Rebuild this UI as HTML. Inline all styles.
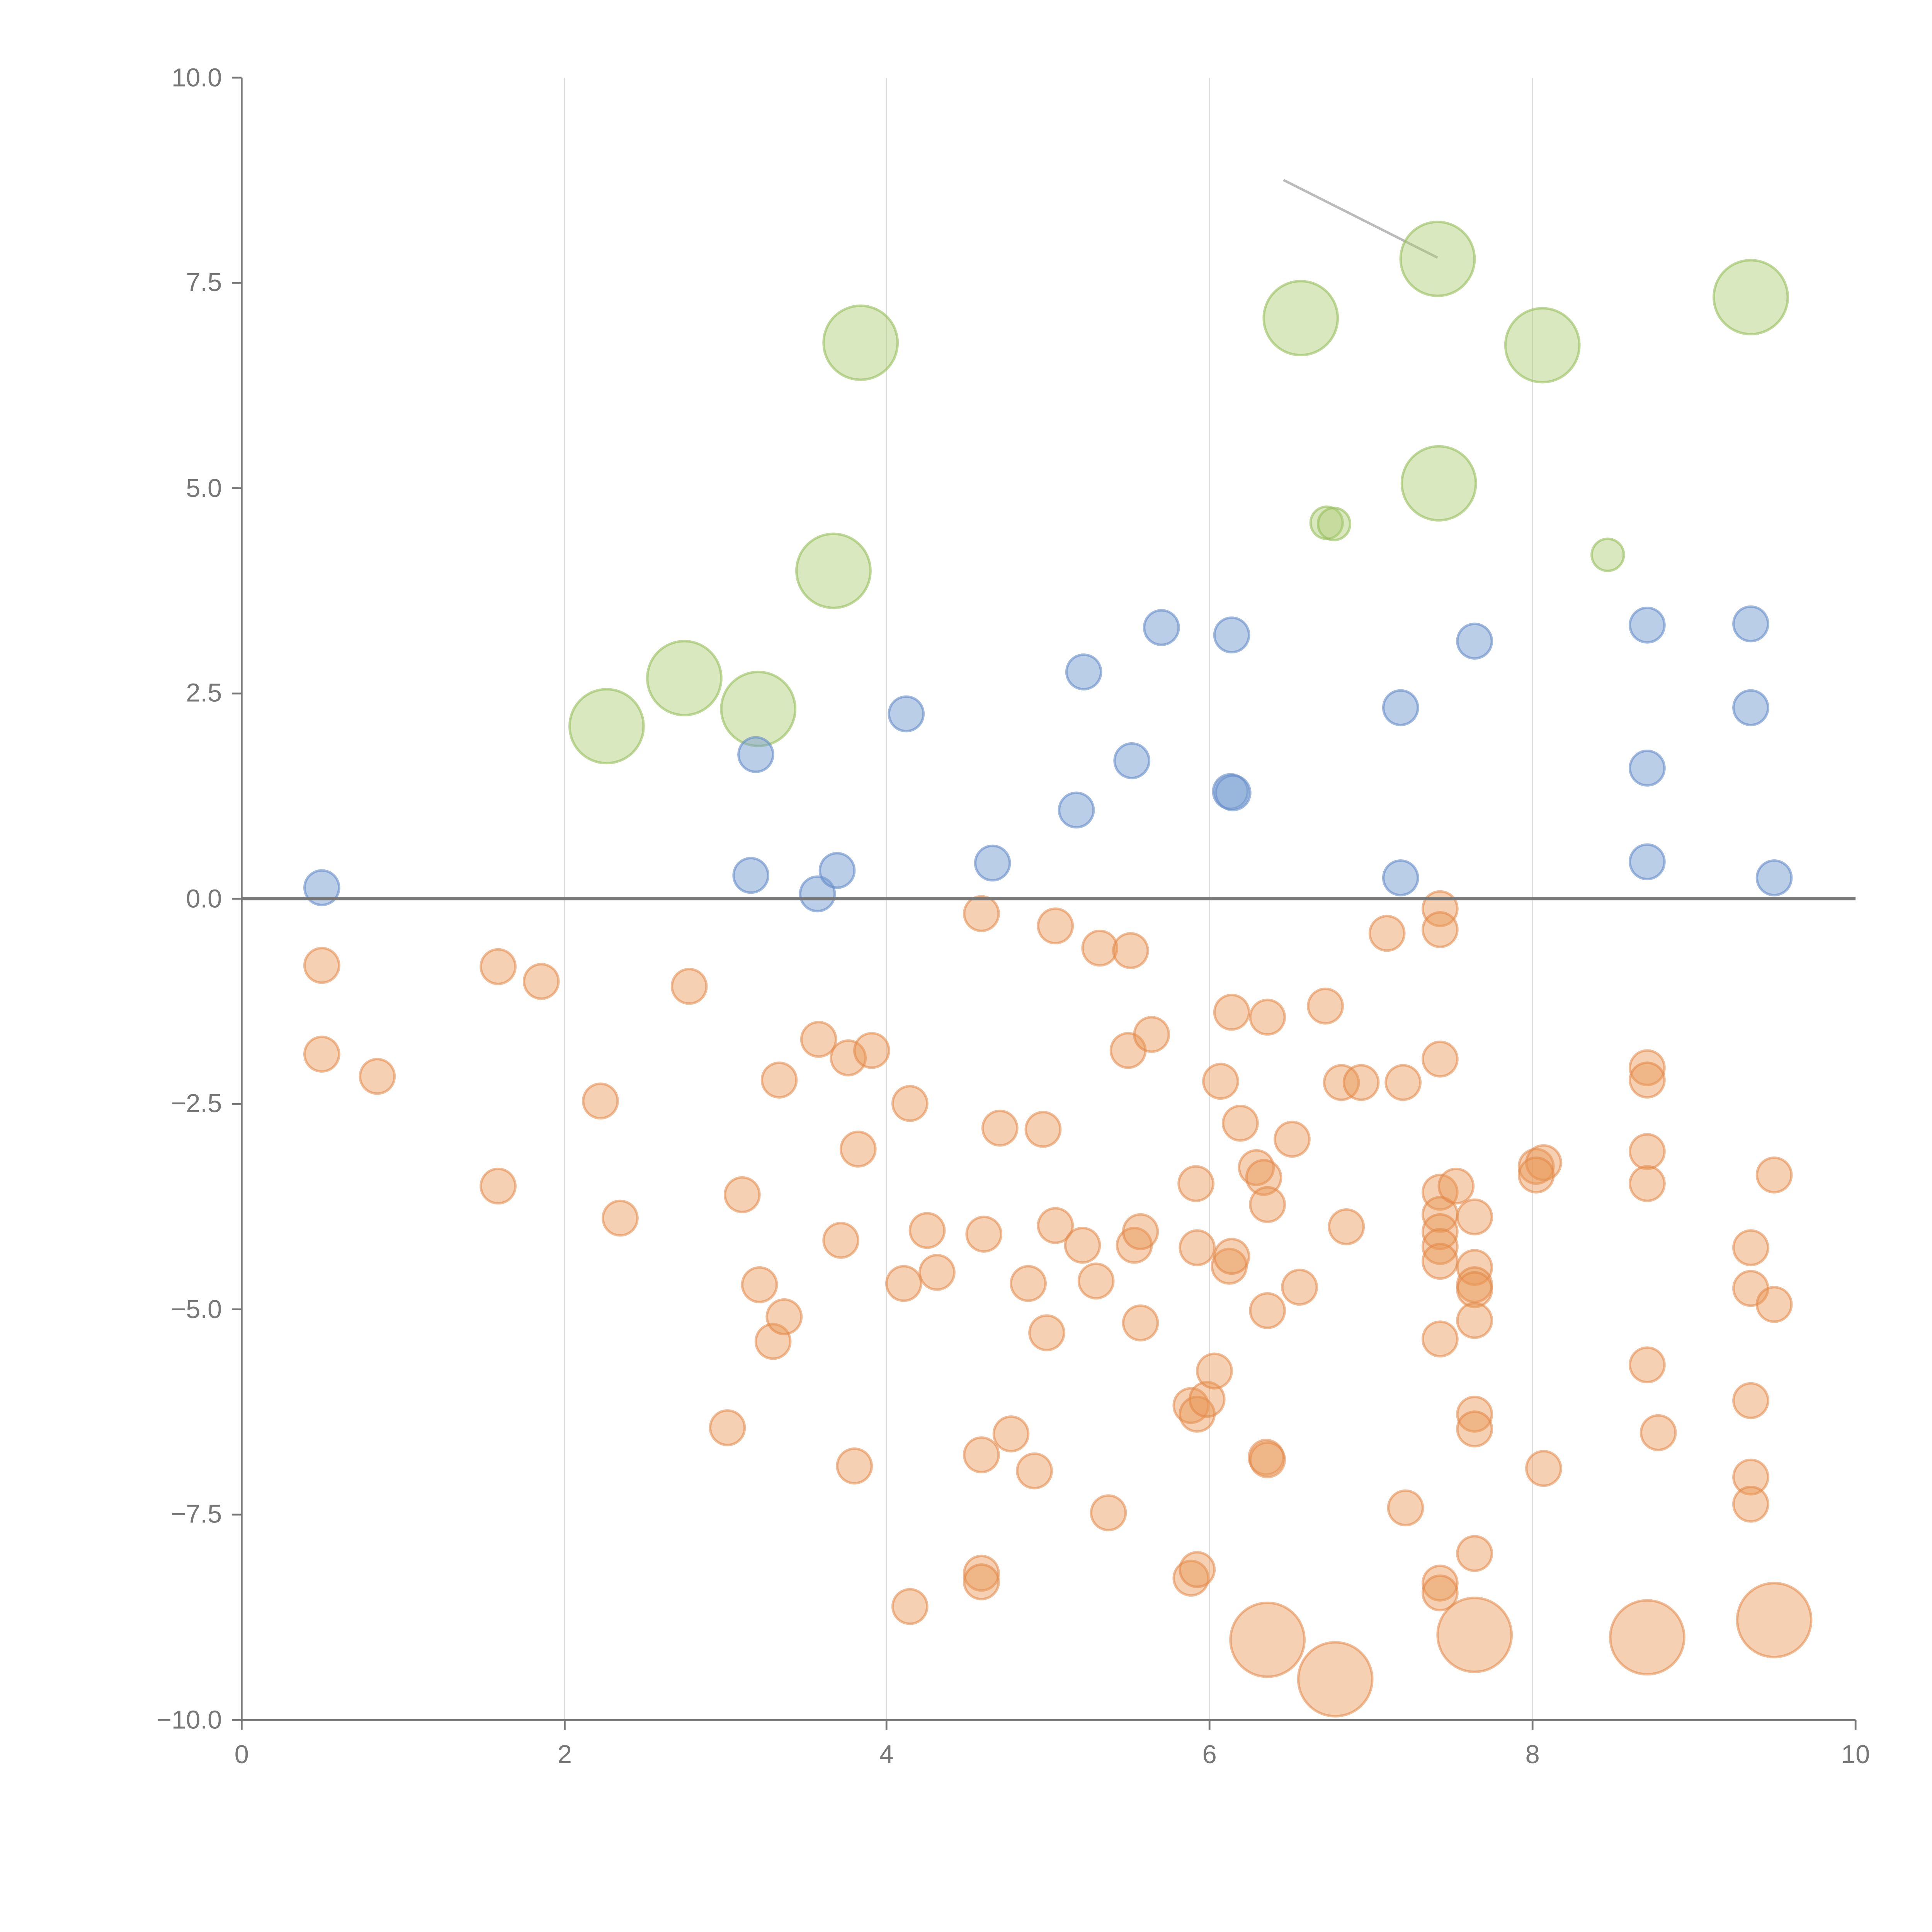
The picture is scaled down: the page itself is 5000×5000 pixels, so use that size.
<!DOCTYPE html>
<html><head><meta charset="utf-8"><style>html,body{margin:0;padding:0;background:#fff}svg{display:block}</style></head>
<body>
<svg width="5000" height="5000" viewBox="0 0 1567 1567" xmlns="http://www.w3.org/2000/svg" font-family="Liberation Sans, sans-serif">
<rect width="1567" height="1567" fill="#fff"/>
<g stroke="#ddd" stroke-width="1">
<line x1="458" y1="63" x2="458" y2="1395"/><line x1="719" y1="63" x2="719" y2="1395"/>
<line x1="981" y1="63" x2="981" y2="1395"/><line x1="1243" y1="63" x2="1243" y2="1395"/>
</g>
<g stroke="#777" stroke-width="1.5" fill="none">
<line x1="196" y1="63" x2="196" y2="1395"/><line x1="196" y1="1395" x2="1505" y2="1395"/>
<line x1="188" y1="63" x2="196" y2="63"/><line x1="188" y1="229.5" x2="196" y2="229.5"/><line x1="188" y1="396" x2="196" y2="396"/><line x1="188" y1="562.5" x2="196" y2="562.5"/><line x1="188" y1="729" x2="196" y2="729"/><line x1="188" y1="895.5" x2="196" y2="895.5"/><line x1="188" y1="1062" x2="196" y2="1062"/><line x1="188" y1="1228.5" x2="196" y2="1228.5"/><line x1="188" y1="1395" x2="196" y2="1395"/>
<line x1="196" y1="1395" x2="196" y2="1403"/><line x1="458" y1="1395" x2="458" y2="1403"/><line x1="719" y1="1395" x2="719" y2="1403"/><line x1="981" y1="1395" x2="981" y2="1403"/><line x1="1243" y1="1395" x2="1243" y2="1403"/><line x1="1505" y1="1395" x2="1505" y2="1403"/>
</g>
<g fill="#777" font-size="21" text-anchor="end">
<text x="180" y="70">10.0</text><text x="180" y="236">7.5</text><text x="180" y="403">5.0</text><text x="180" y="569">2.5</text><text x="180" y="736">0.0</text><text x="180" y="902">−2.5</text><text x="180" y="1069">−5.0</text><text x="180" y="1235">−7.5</text><text x="180" y="1402">−10.0</text>
</g>
<g fill="#777" font-size="21" text-anchor="middle">
<text x="196" y="1430">0</text><text x="458" y="1430">2</text><text x="719" y="1430">4</text><text x="981" y="1430">6</text><text x="1243" y="1430">8</text><text x="1505" y="1430">10</text>
</g>
<line x1="1041" y1="146" x2="1166" y2="209" stroke="#bbb" stroke-width="2"/>
<g id="pts"></g>
<line x1="196" y1="729" x2="1505" y2="729" stroke="#777" stroke-width="2.5"/>
<script>
var g=document.getElementById('pts'),ns='http://www.w3.org/2000/svg';
function add(a,r,f,s){a.forEach(function(p){var c=document.createElementNS(ns,'circle');c.setAttribute('cx',p[0]);c.setAttribute('cy',p[1]);c.setAttribute('r',r);c.setAttribute('fill',f);c.setAttribute('stroke',s);c.setAttribute('stroke-width',2);g.appendChild(c);});}
var gf='rgba(172,203,115,0.45)',gs='rgba(150,190,90,0.6)';
add([[698,278],[1055,258],[1166,210],[1251,280],[1420,241],[1167,392],[676,463],[555,550],[615,575],[492,589]],30,gf,gs);
add([[1076,424],[1082,425],[1304,450]],13,gf,gs);
add([[261,720],[609,710],[663,725],[679,706],[613,612],[735,579],[805,700],[873,657],[879,545],[918,617],[942,509],[999,515],[998,642],[1000,643],[1136,574],[1136,712],[1196,520],[1336,507],[1336,623],[1336,699],[1420,506],[1420,574],[1439,712]],14,'rgba(120,158,210,0.5)','rgba(100,140,200,0.6)');
var of='rgba(232,150,85,0.45)',os='rgba(225,135,70,0.55)';
add([[261,783],[261,855],[306,873],[404,784],[439,796],[404,962],[487,893],[503,988],[559,800],[590,1158],[602,969],[616,1042],[627,1088],[632,876],[636,1068],[664,843],[682,1006],[688,858],[696,932],[693,1189],[707,852],[733,1041],[738,895],[738,1303],[752,998],[760,1032],[796,741],[798,1001],[811,915],[796,1180],[820,1163],[796,1276],[796,1283],[834,1041],[839,1193],[846,916],[849,1081],[856,751],[856,994],[878,1010],[889,1039],[892,769],[899,1227],[915,852],[917,771],[920,1010],[925,999],[925,1073],[934,839],[970,960],[971,1012],[966,1140],[971,1147],[979,1135],[985,1112],[966,1280],[971,1273],[990,877],[999,821],[997,1027],[999,1019],[1006,911],[1019,947],[1025,955],[1028,977],[1028,825],[1028,1063],[1027,1182],[1028,1184],[1048,924],[1054,1044],[1075,816],[1088,878],[1092,995],[1104,878],[1125,757],[1138,878],[1140,1223],[1168,737],[1168,754],[1168,859],[1168,967],[1168,985],[1168,999],[1168,1011],[1168,1023],[1181,962],[1168,1086],[1168,1284],[1168,1292],[1196,987],[1196,1028],[1196,1042],[1196,1046],[1196,1071],[1196,1147],[1196,1159],[1196,1260],[1246,946],[1252,943],[1246,953],[1252,1191],[1336,866],[1336,876],[1336,934],[1336,960],[1336,1107],[1345,1162],[1420,1012],[1420,1045],[1420,1136],[1420,1198],[1420,1220],[1439,953],[1439,1058]],14,of,os);
add([[1028,1330],[1083,1362],[1196,1326],[1336,1328],[1439,1314]],30,of,os);
</script>
</svg>
</body></html>
